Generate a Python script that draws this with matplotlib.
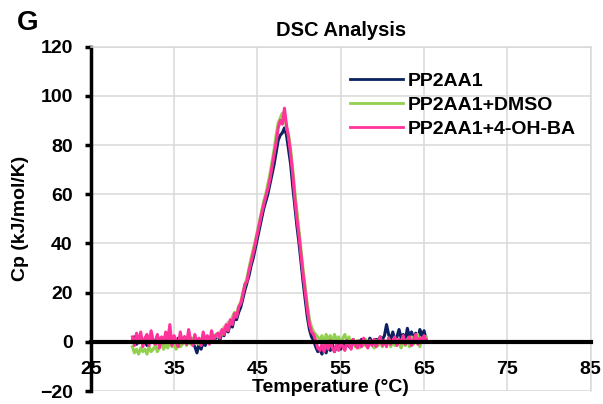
import matplotlib
matplotlib.use("Agg")
import matplotlib.pyplot as plt

plt.rcParams['font.family'] = ['Liberation Sans', 'DejaVu Sans']
plt.rcParams['font.weight'] = 'bold'

# Temperature samples (°C), rows of 10 (each row spans 2.5 °C)
temperature = [
    30.0, 30.25, 30.5, 30.75, 31.0, 31.25, 31.5, 31.75, 32.0, 32.25,
    32.5, 32.75, 33.0, 33.25, 33.5, 33.75, 34.0, 34.25, 34.5, 34.75,
    35.0, 35.25, 35.5, 35.75, 36.0, 36.25, 36.5, 36.75, 37.0, 37.25,
    37.5, 37.75, 38.0, 38.25, 38.5, 38.75, 39.0, 39.25, 39.5, 39.75,
    40.0, 40.25, 40.5, 40.75, 41.0, 41.25, 41.5, 41.75, 42.0, 42.25,
    42.5, 42.75, 43.0, 43.25, 43.5, 43.75, 44.0, 44.25, 44.5, 44.75,
    45.0, 45.25, 45.5, 45.75, 46.0, 46.25, 46.5, 46.75, 47.0, 47.25,
    47.5, 47.75, 48.0, 48.25, 48.5, 48.75, 49.0, 49.25, 49.5, 49.75,
    50.0, 50.25, 50.5, 50.75, 51.0, 51.25, 51.5, 51.75, 52.0, 52.25,
    52.5, 52.75, 53.0, 53.25, 53.5, 53.75, 54.0, 54.25, 54.5, 54.75,
    55.0, 55.25, 55.5, 55.75, 56.0, 56.25, 56.5, 56.75, 57.0, 57.25,
    57.5, 57.75, 58.0, 58.25, 58.5, 58.75, 59.0, 59.25, 59.5, 59.75,
    60.0, 60.25, 60.5, 60.75, 61.0, 61.25, 61.5, 61.75, 62.0, 62.25,
    62.5, 62.75, 63.0, 63.25, 63.5, 63.75, 64.0, 64.25, 64.5, 64.75,
    65.0, 65.25,
]

cp_pp2aa1 = [
    0.5, 2.0, -1.0, 1.5, 2.5, -0.5, 1.0, -1.5, 2.0, 0.0,
    1.0, -1.0, 2.5, 0.0, -1.5, 1.5, 0.5, -1.0, 2.0, -0.5,
    0.5, -1.5, 1.5, -1.0, 0.5, 2.0, -1.0, 0.0, 1.5, -0.5,
    -2.0, -4.5, -1.0, -3.0, 0.0, -1.5, 1.0, -0.5, 1.5, 0.5,
    1.5, 3.0, 0.5, 4.0, 2.5, 6.0, 4.0, 7.5, 6.0, 10.0,
    9.0, 12.0, 14.0, 17.5, 21.0, 24.0, 27.0, 31.0, 34.0, 38.0,
    42.0, 46.0, 50.0, 54.0, 57.0, 60.0, 64.0, 68.0, 72.0, 77.0,
    82.0, 84.0, 85.0, 87.0, 84.0, 78.0, 72.0, 63.0, 55.0, 47.0,
    40.0, 32.0, 24.0, 17.0, 10.0, 5.0, 2.0, 0.5, -2.0, -4.0,
    -3.0, -5.0, -2.0, -4.5, -1.5, -3.5, -1.0, -4.0, -2.0, -0.5,
    -3.0, -1.0, -2.5, 0.0, -2.0, -0.5, 1.0, -1.5, 0.0, -1.0,
    1.0, -0.5, 0.5, -1.0, 1.5, 0.0, -1.0, 1.0, 0.5, 2.0,
    1.0, 2.5, 7.0, 3.0, 1.0, 4.0, 0.5, 2.0, 5.0, 1.5,
    3.0, 0.5, 5.5, 2.0, 4.0, 1.0, 3.5, 0.5, 5.0, 2.5,
    4.5, 1.0,
]

cp_dmso = [
    -2.0, -4.5, -3.0, -5.0, -2.5, -4.0, -3.0, -5.0, -2.0, -4.0,
    -3.0, -1.5, -4.0, -2.0, -0.5, -3.0, -1.0, -2.5, 0.5, -2.0,
    -1.0, -3.0, 0.0, -2.0, -1.0, 1.0, -1.5, 0.5, -1.0, 1.5,
    -0.5, 1.0, -1.0, 0.5, 2.0, 0.0, 1.5, 0.5, 2.5, 1.0,
    3.0, 2.0, 4.0, 3.0, 6.0, 5.0, 8.0, 7.5, 10.0, 12.0,
    11.0, 14.5, 16.0, 20.0, 23.0, 26.0, 30.0, 34.0, 37.5, 41.0,
    45.0, 49.0, 53.0, 57.0, 60.0, 64.0, 68.0, 73.0, 78.0, 84.0,
    89.0, 91.0, 93.0, 92.0, 87.0, 84.0, 78.0, 70.0, 61.0, 53.0,
    45.0, 37.0, 29.0, 22.0, 15.0, 9.0, 6.0, 4.0, 3.0, 2.0,
    0.5, 2.5, -1.0, 3.0, 1.0, 2.5, -0.5, 3.0, 0.5, 2.0,
    -1.0, 1.5, 3.0, 0.0, 2.0, -1.5, 1.0, -2.0, 0.5, -2.5,
    0.0, -1.5, 1.0, -2.0, 0.5, -1.0, -2.5, 0.5, -1.5, 1.0,
    -2.0, 0.0, -1.0, 1.5, -2.0, 0.0, -1.5, 1.0, -0.5, -2.5,
    0.5, -1.5, 1.0, -2.0, 2.0, -1.0, 0.5, 3.0, -2.0, 1.5,
    0.0, 2.0,
]

cp_4ohba = [
    2.0, -1.5, 3.5, -0.5, 4.0, -2.0, 1.5, 3.0, -1.5, 4.5,
    0.5, -1.0, 3.0, -2.5, 2.0, -0.5, 4.0, 1.0, 7.0, -1.5,
    2.5, 0.5, -2.0, 4.0, -0.5, 2.0, -1.0, 5.0, 0.5, -1.5,
    3.0, -0.5, 1.5, -1.5, 4.0, 0.5, 2.5, -1.0, 4.5, 1.0,
    2.5, 3.5, 1.5, 5.0, 3.0, 7.0, 4.5, 9.0, 7.0, 11.5,
    10.0, 14.0, 15.5, 19.0, 23.5, 24.5, 29.0, 32.5, 36.0, 40.0,
    44.0, 48.0, 52.0, 55.5, 59.0, 62.0, 66.0, 71.0, 76.0, 81.0,
    87.0, 90.0, 88.5, 95.0, 88.0, 83.0, 76.0, 68.0, 58.0, 50.0,
    43.0, 35.0, 27.0, 20.0, 13.0, 7.0, 4.0, 3.0, 0.5, -2.5,
    -3.5, -1.0, -4.0, -0.5, -3.0, 0.5, -2.5, -4.0, -1.0, -3.5,
    0.0, -2.0, -3.5, 0.5, -1.5, -3.0, 1.0, -1.0, -2.5, 0.5,
    -2.0, 1.5, -1.0, -2.5, 0.5, -1.5, 1.0, -2.0, 0.0, 2.0,
    -1.5, 0.5, -2.0, 1.5, -1.0, 0.5, 2.0, -1.5, 1.0, -0.5,
    2.5, -1.0, 0.5, 2.0, -1.5, 1.0, 3.0, -1.0, 1.5, 0.0,
    2.5, 0.5,
]

series_labels = ["PP2AA1", "PP2AA1+DMSO", "PP2AA1+4-OH-BA"]
series_colors = ["#0B2160", "#92D050", "#FF3399"]
x_ticks = [25, 35, 45, 55, 65, 75, 85]
y_ticks = [-20, 0, 20, 40, 60, 80, 100, 120]

fig = plt.figure(figsize=(6.03, 4.04), dpi=100)
ax = fig.add_axes([90.7 / 603, 1 - 391 / 404, 500 / 603, (391 - 46.7) / 404])

for ys, lab, col in zip([cp_pp2aa1, cp_dmso, cp_4ohba], series_labels, series_colors):
    ax.plot(temperature, ys, color=col, lw=2.2, label=lab, solid_joinstyle='round')

ax.set_xlim(25, 85)
ax.set_ylim(-20, 120)
ax.set_xticks(x_ticks)
ax.set_yticks(y_ticks)
ax.grid(True, color='#D9D9D9', lw=1.1)
ax.set_axisbelow(True)

ax.spines['bottom'].set_position(('data', 0))
ax.spines['bottom'].set_linewidth(3)
ax.spines['bottom'].set_color('black')
ax.spines['left'].set_linewidth(2.5)
for s in ['top', 'right']:
    ax.spines[s].set_color('#D9D9D9')
    ax.spines[s].set_linewidth(1.1)

ax.tick_params(axis='x', length=0, pad=14, labelsize=14)
ax.tick_params(axis='y', length=4, width=2.5, pad=9, labelsize=14, direction='out')
for t in ax.get_xticklabels() + ax.get_yticklabels():
    t.set_fontweight('bold')

ax.set_title("DSC Analysis", fontsize=14.5, fontweight='bold', pad=8)
ax.set_ylabel("Cp (kJ/mol/K)", fontsize=14, fontweight='bold', labelpad=8)
fig.text(330 / 603, 1 - 387 / 404, "Temperature (°C)", fontsize=14, fontweight='bold',
         ha='center', va='center')
fig.text(17 / 603, 1 - 23 / 404, "G", fontsize=20, fontweight='bold', ha='left', va='center')

leg = ax.legend(loc='upper left', bbox_to_anchor=(350 / 603, 1 - 72 / 404),
                bbox_transform=fig.transFigure, frameon=False, fontsize=14,
                handlelength=2.7, handletextpad=0.25, labelspacing=0.33,
                borderpad=0, borderaxespad=0)
for t in leg.get_texts():
    t.set_fontweight('bold')
for h in leg.get_lines():
    h.set_linewidth(2.0)

fig.savefig("out.png", dpi=100)
